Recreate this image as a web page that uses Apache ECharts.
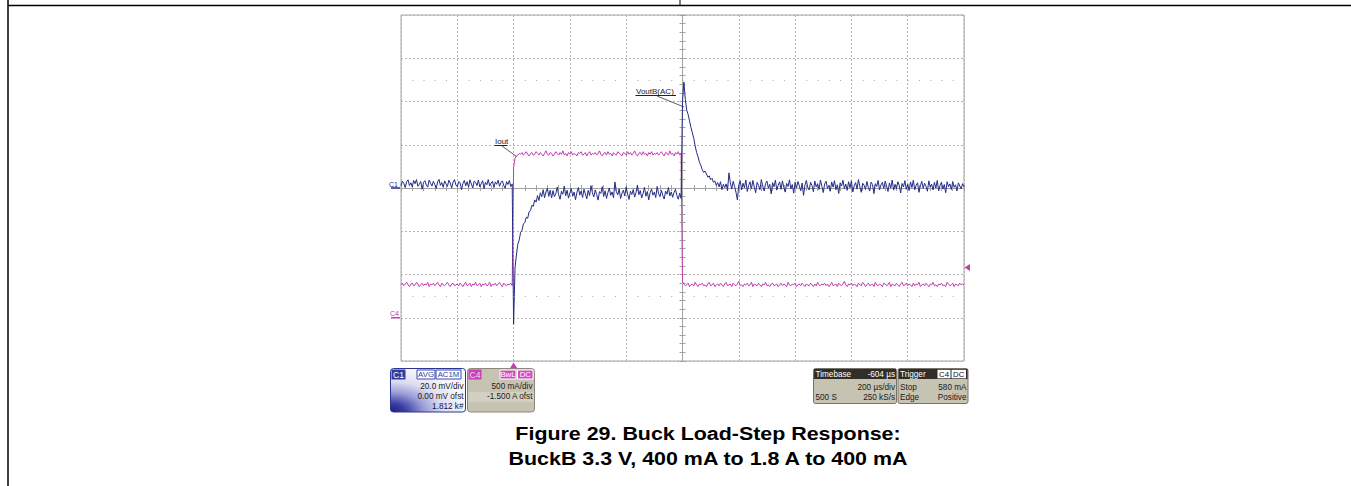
<!DOCTYPE html>
<html><head><meta charset="utf-8">
<script src="https://cdn.jsdelivr.net/npm/echarts@6/dist/echarts.min.js"></script>
<style>html,body{margin:0;padding:0;background:#fff}#c{width:1351px;height:486px}</style>
</head><body><div id="c"></div>
<script>
// ---- data (time relative to screen centre, µs; one sample every 5 µs) ----
const sampleStartUs = -1000;
const sampleStepUs = 5;
// C1: VoutB (AC), mV
const voutMv = [
 1.0, 3.2, 2.1, 0.2, 2.9, 3.8, 1.1, 2.4, 0.5, 3.5, 2.0, 3.9, 0.8, 1.7, 3.0, -0.6, 2.6, 3.4, 1.3, 0.4,
 3.7, 2.2, 0.9, 3.1, 1.6, -0.2, 2.8, 4.0, 1.2, 2.5, 0.3, 3.3, 1.9, 0.7, 3.6, 2.3, 0.0, 2.7, 3.9, 1.4,
 0.6, 3.0, 2.4, -0.8, 2.1, 3.5, 1.0, 2.9, 0.4, 3.8, 1.8, 0.1, 3.2, 2.6, 1.1, 3.7, 0.5, 2.0, 3.4, -0.3,
 2.7, 1.5, 3.9, 0.9, 2.3, 3.1, 0.2, 2.8, 1.7, 3.6, 0.8, 2.5, 3.3, 1.2, -0.1, 2.9, 1.6, 3.5, 0.7, 1.9,
 -63, -37, -31, -26, -24, -20.5, -19.5, -16.5, -16, -13.5, -14, -11, -10.5, -8, -8.5, -5.5, -6.5, -3.5, -5.8, -2.2,
 -4.0, -0.8, -4.5, -1.8, -0.2, -3.9, -1.0, -4.6,
 -1.2, -4.0, -2.6, 0.4, -3.1, -5.2, -1.5, -2.9, 0.9, -3.6, -1.0, -4.7, -2.3, -0.3, -3.8, -1.9, -5.4, -2.0, 0.2, -3.3,
 -1.4, -4.4, -0.6, -2.7, -5.0, -1.1, -3.5, 1.1, -2.2, -4.1, -0.9, -3.0, -5.6, -1.7, -2.5, 0.6, -3.9, -1.3, -4.8, -2.1,
 0.0, -3.4, -1.8, -4.5, 2.8, -1.6, -3.2, -0.4, -4.9, -2.4, -1.0, -3.7, 0.5, -2.8, -5.3, -1.5, -3.0, -0.7, -4.2, -2.0,
 1.4, -3.1, -1.2, -4.6, -2.5, 0.3, -3.8, -1.6, -5.5, -2.2, -0.5, -3.3, -1.9, -4.4, 0.7, -2.6, -4.0, -1.1, -3.5, -5.1,
 -1.4, -2.9, 0.2, -3.7, -1.8, -4.3, -2.1, -0.6, -3.4, -5.2, -2.4, -4.8,
 40, 49, 41, 36, 34, 31, 28, 25.5, 23, 19.5, 16.5, 14.5, 12, 10.5, 8.5, 7.2, 7.8, 6.5, 5.0, 5.6,
 3.8, 4.5, 2.6, 3.3, 1.2, 2.5, 0.5, 2.9, -0.8, 1.7, 0.2,
 1.9, -1.2, 7.0, 2.4, -0.5, 3.1, 0.8, -2.0, -5.5, 1.5, 3.4, -0.9, 2.2, 0.1, 3.7, -1.6, 1.1, 2.9, -0.3, 3.5,
 0.4, -2.2, 2.6, 1.2, -0.8, 3.9, 0.9, -1.4, 2.0, 3.2, -0.1, 1.7, -2.7, 2.5, 0.6, 3.6, -1.0, 1.3, 2.8, -0.6,
 3.3, 0.2, -1.9, 2.1, 0.7, 3.8, -0.4, 1.6, -2.4, 2.7, 0.0, 3.0, 1.0, -1.3, 2.3, -3.4, 1.4, 3.5, 0.3, -0.9,
 2.6, 1.1, -1.7, 3.2, 0.5, 2.0, -0.7, 3.7, 0.8, -2.1, 1.9, 3.1, -0.2, 1.2, -1.5, 2.8, 0.4, 3.4, -0.8, 1.5,
 -2.5, 2.4, 0.9, 3.6, -0.3, 1.8, -1.1, 2.9, 0.1, 3.3, -1.8, 1.0, 2.5, -0.5, 3.9, 0.6, -2.0, 2.2, 1.3, -0.7,
 3.0, 0.3, -1.4, 2.7, 1.6, -2.6, 2.0, 0.7, 3.5, -0.9, 1.4, 2.6, -0.2, 3.2, 0.9, -1.6, 2.3, 0.0, 3.7, -1.0,
 1.7, -0.4, 2.9, 1.1, -2.3, 2.1, 0.5, 3.4, -0.6, 1.9, -1.2, 2.8, 0.2, 3.6, -0.8, 1.3, 2.4, -2.0, 1.0, 3.1,
 -0.1, 2.2, 0.8, -1.5, 3.3, 0.4, 1.8, -0.9, 2.6, 0.0, 3.5, -1.3, 1.2, 2.7, -0.5, 1.6, -2.2, 2.9, 0.6, 1.9,
 -0.7, 3.0, 0.3, 1.5, -1.4, 2.4, 0.9, -0.3, 2.0, 0.5
];
// C4: Iout, A
const ioutA = [
 0.38,0.40,0.37,0.39,0.41,0.38,0.36,0.39,0.40,0.37,0.38,0.41,0.39,0.36,0.38,0.40,0.37,0.39,0.38,0.41,
 0.36,0.39,0.38,0.40,0.37,0.39,0.41,0.38,0.36,0.40,0.38,0.37,0.39,0.41,0.38,0.36,0.39,0.40,0.37,0.38,
 0.39,0.37,0.40,0.38,0.36,0.39,0.41,0.37,0.38,0.40,0.36,0.39,0.38,0.41,0.37,0.38,0.40,0.36,0.39,0.38,
 0.40,0.37,0.38,0.41,0.36,0.39,0.38,0.40,0.37,0.39,0.41,0.38,0.36,0.40,0.38,0.37,0.39,0.38,0.40,0.37,
 1.74,1.84,1.87,
 1.88,1.90,1.89,1.91,1.88,1.90,1.92,1.89,1.87,1.90,1.91,1.88,1.89,1.92,1.90,1.88,1.91,1.89,1.87,1.90,
 1.93,1.89,1.88,1.91,1.90,1.87,1.89,1.92,1.90,1.88,1.91,1.89,1.93,1.88,1.90,1.87,1.91,1.89,1.92,1.88,
 1.90,1.89,1.87,1.91,1.90,1.92,1.88,1.89,1.91,1.87,1.90,1.92,1.88,1.90,1.89,1.91,1.88,1.90,1.93,1.89,
 1.87,1.90,1.91,1.88,1.92,1.89,1.90,1.87,1.91,1.89,1.88,1.92,1.90,1.89,1.87,1.91,1.90,1.88,1.92,1.89,
 1.91,1.88,1.90,1.93,1.89,1.87,1.90,1.91,1.88,1.92,1.89,1.90,1.87,1.91,1.89,1.92,1.88,1.90,1.89,1.91,
 1.88,1.90,1.92,1.89,1.87,1.91,1.90,1.88,1.93,1.89,1.90,1.87,1.91,1.89,1.92,1.88,1.90,
 0.42,
 0.39,0.37,0.38,0.40,0.36,0.38,0.39,0.37,0.41,0.38,0.36,0.39,0.38,0.40,0.37,0.38,0.36,0.39,0.41,0.37,
 0.38,0.40,0.36,0.38,0.39,0.37,0.40,0.38,0.36,0.39,0.41,0.37,0.38,0.39,0.36,0.40,0.38,0.37,0.39,0.42,
 0.37,0.38,0.36,0.39,0.38,0.40,0.37,0.38,0.41,0.36,0.39,0.38,0.37,0.40,0.38,0.36,0.39,0.38,0.41,0.37,
 0.38,0.36,0.39,0.40,0.37,0.38,0.39,0.36,0.38,0.40,0.37,0.39,0.38,0.36,0.41,0.38,0.37,0.39,0.38,0.40,
 0.36,0.38,0.39,0.37,0.40,0.38,0.36,0.39,0.38,0.37,0.40,0.38,0.36,0.39,0.37,0.41,0.38,0.37,0.39,0.38,
 0.40,0.37,0.39,0.36,0.38,0.41,0.37,0.38,0.39,0.36,0.40,0.38,0.37,0.39,0.42,0.38,0.36,0.39,0.38,0.40,
 0.37,0.39,0.38,0.36,0.40,0.38,0.37,0.41,0.39,0.36,0.38,0.40,0.37,0.38,0.39,0.36,0.41,0.38,0.37,0.39,
 0.38,0.36,0.40,0.39,0.37,0.38,0.41,0.36,0.39,0.38,0.37,0.40,0.38,0.36,0.39,0.41,0.37,0.38,0.40,0.37,
 0.39,0.38,0.36,0.40,0.37,0.39,0.38,0.41,0.36,0.38,0.39,0.37,0.40,0.38,0.36,0.39,0.38,0.41,0.37,0.38,
 0.36,0.39,0.38,0.40,0.37,0.38,0.36,0.41,0.39,0.37,0.38,0.40,0.36,0.39,0.38,0.37,0.40,0.38,0.39,0.38
];
const timeAxis = { min: -1000, max: 1000, interval: 200 };   // 200 µs/div
const c1Axis = { min: -80, max: 80, interval: 20 };          // 20 mV/div
const c4Axis = { min: -0.5, max: 3.5, interval: 0.5 };       // 500 mA/div, -1.5 A ofst
const dotRowsMv = [50, -50];
const triggerTimeUs = -600;
const triggerLevelA = 0.58;
const captionLines = ['Figure 29. Buck Load-Step Response:', 'BuckB 3.3 V, 400 mA to 1.8 A to 400 mA'];

const C1COL = '#232c86', C4COL = '#c23cb2', GRID = '#b4b4b4';
const FONT = '"Liberation Sans", Arial, sans-serif';

const voutData = voutMv.map((v, i) => [sampleStartUs + i * sampleStepUs, v]);
const ioutData = ioutA.map((v, i) => [sampleStartUs + i * sampleStepUs, v]);

const chart = echarts.init(document.getElementById('c'), null, { renderer: 'svg' });
const hidden = { axisLabel: { show: false }, axisTick: { show: false }, axisLine: { show: false } };
const crossTick = (inside) => ({
  show: true,
  axisLine: { show: true, onZero: true, onZeroAxisIndex: 0, lineStyle: { color: '#a2a2a2', width: 1 } },
  axisTick: { show: true, inside: inside, length: 3, lineStyle: { color: '#a2a2a2' } },
  minorTick: { show: true, splitNumber: 5, length: 3, lineStyle: { color: '#a2a2a2' } },
  axisLabel: { show: false }, splitLine: { show: false }
});
chart.setOption({
  animation: false,
  grid: { left: 401, top: 15, right: 387, bottom: 125, show: true, borderColor: '#a4a4a4', borderWidth: 1, backgroundColor: '#fff' },
  xAxis: [
    Object.assign({ type: 'value', position: 'bottom', splitLine: { show: true, lineStyle: { color: GRID, type: [2, 2] } } }, timeAxis, hidden),
    Object.assign({ type: 'value', position: 'bottom' }, timeAxis, crossTick(true)),
    Object.assign({ type: 'value', position: 'bottom' }, timeAxis, crossTick(false))
  ],
  yAxis: [
    Object.assign({ type: 'value', position: 'left', splitLine: { show: true, lineStyle: { color: GRID, type: [2, 2] } } }, c1Axis, hidden),
    Object.assign({ type: 'value', position: 'right', show: false, splitLine: { show: false } }, c4Axis),
    Object.assign({ type: 'value', position: 'left' }, c1Axis, crossTick(true)),
    Object.assign({ type: 'value', position: 'left' }, c1Axis, crossTick(false))
  ],
  series: [
    { name: 'Iout', type: 'line', xAxisIndex: 0, yAxisIndex: 1, data: ioutData, showSymbol: false, symbol: 'none',
      lineStyle: { color: C4COL, width: 1 }, clip: true, z: 3 },
    { name: 'VoutB(AC)', type: 'line', xAxisIndex: 0, yAxisIndex: 0, data: voutData, showSymbol: false, symbol: 'none',
      lineStyle: { color: C1COL, width: 1 }, clip: true, z: 4,
      markLine: { silent: true, symbol: ['none', 'none'], label: { show: false }, animation: false,
        lineStyle: { color: '#a8a8a8', type: [1, 10.26], width: 1 },
        data: dotRowsMv.map(v => ({ yAxis: v })) } }
  ]
});

// ---- annotations & scope readout panels ----
const px = (t) => chart.convertToPixel({ xAxisIndex: 0 }, t);
const pyV = (v) => chart.convertToPixel({ yAxisIndex: 0 }, v);
const pyI = (v) => chart.convertToPixel({ yAxisIndex: 1 }, v);
const g = [];
const rect = (x, y, w, h, fill, stroke, r) => g.push({ type: 'rect', shape: { x, y, width: w, height: h, r: r || 0 },
  style: { fill: fill, stroke: stroke || null, lineWidth: stroke ? 1 : 0 }, z: 10 });
const txt = (x, y, s, o) => g.push(Object.assign({ type: 'text', x, y, z: 12,
  style: { text: s, fill: (o && o.fill) || '#1a1a1a', font: ((o && o.bold) ? 'bold ' : '') + ((o && o.size) || 8.2) + 'px ' + FONT,
    textAlign: (o && o.align) || 'left', textVerticalAlign: 'middle' } }, (o && o.extra) || {}));
const line = (x1, y1, x2, y2, col, w) => g.push({ type: 'line', shape: { x1, y1, x2, y2 }, style: { stroke: col, lineWidth: w || 1 }, z: 11 });
const poly = (pts, col) => g.push({ type: 'polygon', shape: { points: pts }, style: { fill: col }, z: 11 });

// page frame lines
line(8, 0, 8, 486, '#000', 1.5);
line(8, 5.5, 1351, 5.5, '#000', 1.5);
line(680, 0, 680, 5.5, '#000', 1);

// channel ground markers
const y0 = pyV(0), y4 = pyI(0);
txt(389, y0 - 4, 'C1', { fill: C1COL, size: 7 });
line(391, y0, 400, y0, C1COL, 1.5);
txt(390, y4 - 4, 'C4', { fill: C4COL, size: 7 });
line(391, y4, 400, y4, C4COL, 1.5);

// trigger markers
const tx = px(triggerTimeUs), ty = pyI(triggerLevelA);
poly([[tx - 3.5, 368], [tx + 3.5, 368], [tx, 362.5]], C4COL);
poly([[970, ty - 3.5], [970, ty + 3.5], [964.5, ty]], C4COL);

// trace labels
txt(495, 141, 'Iout', { size: 8 });
line(494.5, 145.5, 507.5, 145.5, '#222', 1);
line(502, 146, 516.5, 156.5, '#333', 0.8);
txt(636, 91, 'VoutB(AC)', { size: 8 });
line(635.5, 95.5, 676, 95.5, '#222', 1);
line(657, 96, 684, 107, '#333', 0.8);

// C1 panel
g.push({ type: 'rect', shape: { x: 390.5, y: 368.5, width: 75, height: 43.5, r: 3 }, z: 10,
  style: { fill: new echarts.graphic.RadialGradient(0.0, 1, 1.0, [
    { offset: 0, color: '#191c7e' }, { offset: 0.2, color: '#3a3fa2' }, { offset: 0.45, color: '#9a9dd6' }, { offset: 0.7, color: '#dcdcf2' }, { offset: 1, color: '#f6f6fc' }]),
    stroke: '#2e3592', lineWidth: 1 } });
rect(391.5, 369.5, 14, 10, '#2d3fa0');
txt(398.5, 374.8, 'C1', { fill: '#fff', size: 8.5, align: 'center' });
rect(417, 370, 18, 9, '#fff', '#3a4aa8');
txt(426, 374.8, 'AVG', { fill: '#2d3fa0', size: 7.8, align: 'center' });
rect(436, 370, 25, 9, '#fff', '#3a4aa8');
txt(448.5, 374.8, 'AC1M', { fill: '#2d3fa0', size: 7.8, align: 'center' });
txt(463.5, 386, '20.0 mV/div', { align: 'right' });
txt(463.5, 396.5, '0.00 mV ofst', { align: 'right' });
txt(463.5, 406.8, '1.812 k#', { align: 'right', fill: '#10124a' });

// C4 panel
rect(467.5, 368.5, 67, 43.5, '#c7c3b3', '#8d8979', 3);
rect(468.5, 392, 65, 10, '#d3cfc3');
rect(468.5, 369.5, 13, 10, '#c841b8');
txt(475, 374.8, 'C4', { fill: '#f6d8f2', size: 8.5, align: 'center' });
rect(500, 370, 16, 9, '#d24cc2', '#fff');
txt(508, 374.8, 'BwL', { fill: '#fff', size: 7.8, align: 'center' });
rect(517.5, 370, 15.5, 9, '#d24cc2', '#fff');
txt(525.3, 374.8, 'DC', { fill: '#fff', size: 7.8, align: 'center' });
txt(532.5, 386, '500 mA/div', { align: 'right' });
txt(532.5, 396.5, '-1.500 A ofst', { align: 'right' });

// Timebase panel
rect(813.5, 368.5, 83, 35, '#c7c3b3', '#77736a', 2);
rect(814, 369, 82, 10, '#2f2e27');
txt(815.5, 374, 'Timebase', { fill: '#fff', size: 8.2 });
txt(895, 374, '-604 µs', { fill: '#fff', size: 8.2, align: 'right' });
txt(895, 387, '200 µs/div', { align: 'right' });
txt(815.5, 397.5, '500 S', {});
txt(895, 397.5, '250 kS/s', { align: 'right' });

// Trigger panel
rect(898, 368.5, 70, 35, '#c7c3b3', '#77736a', 2);
rect(898.5, 369, 69, 10, '#2f2e27');
txt(900, 374, 'Trigger', { fill: '#fff', size: 8.2 });
rect(937.5, 369.8, 13, 8.5, '#fff');
txt(944, 374, 'C4', { fill: '#111', size: 7.8, align: 'center' });
rect(951.5, 369.8, 14.5, 8.5, '#fff');
txt(958.7, 374, 'DC', { fill: '#111', size: 7.8, align: 'center' });
txt(900, 387, 'Stop', {});
txt(966.5, 387, '580 mA', { align: 'right' });
txt(900, 397.5, 'Edge', {});
txt(966.5, 397.5, 'Positive', { align: 'right' });

// caption
txt(708, 433.5, captionLines[0], { bold: true, size: 18, align: 'center', fill: '#000', extra: { scaleX: 1.19 } });
txt(708, 458.5, captionLines[1], { bold: true, size: 18, align: 'center', fill: '#000', extra: { scaleX: 1.19 } });

chart.setOption({ graphic: { elements: g } });
</script></body></html>
